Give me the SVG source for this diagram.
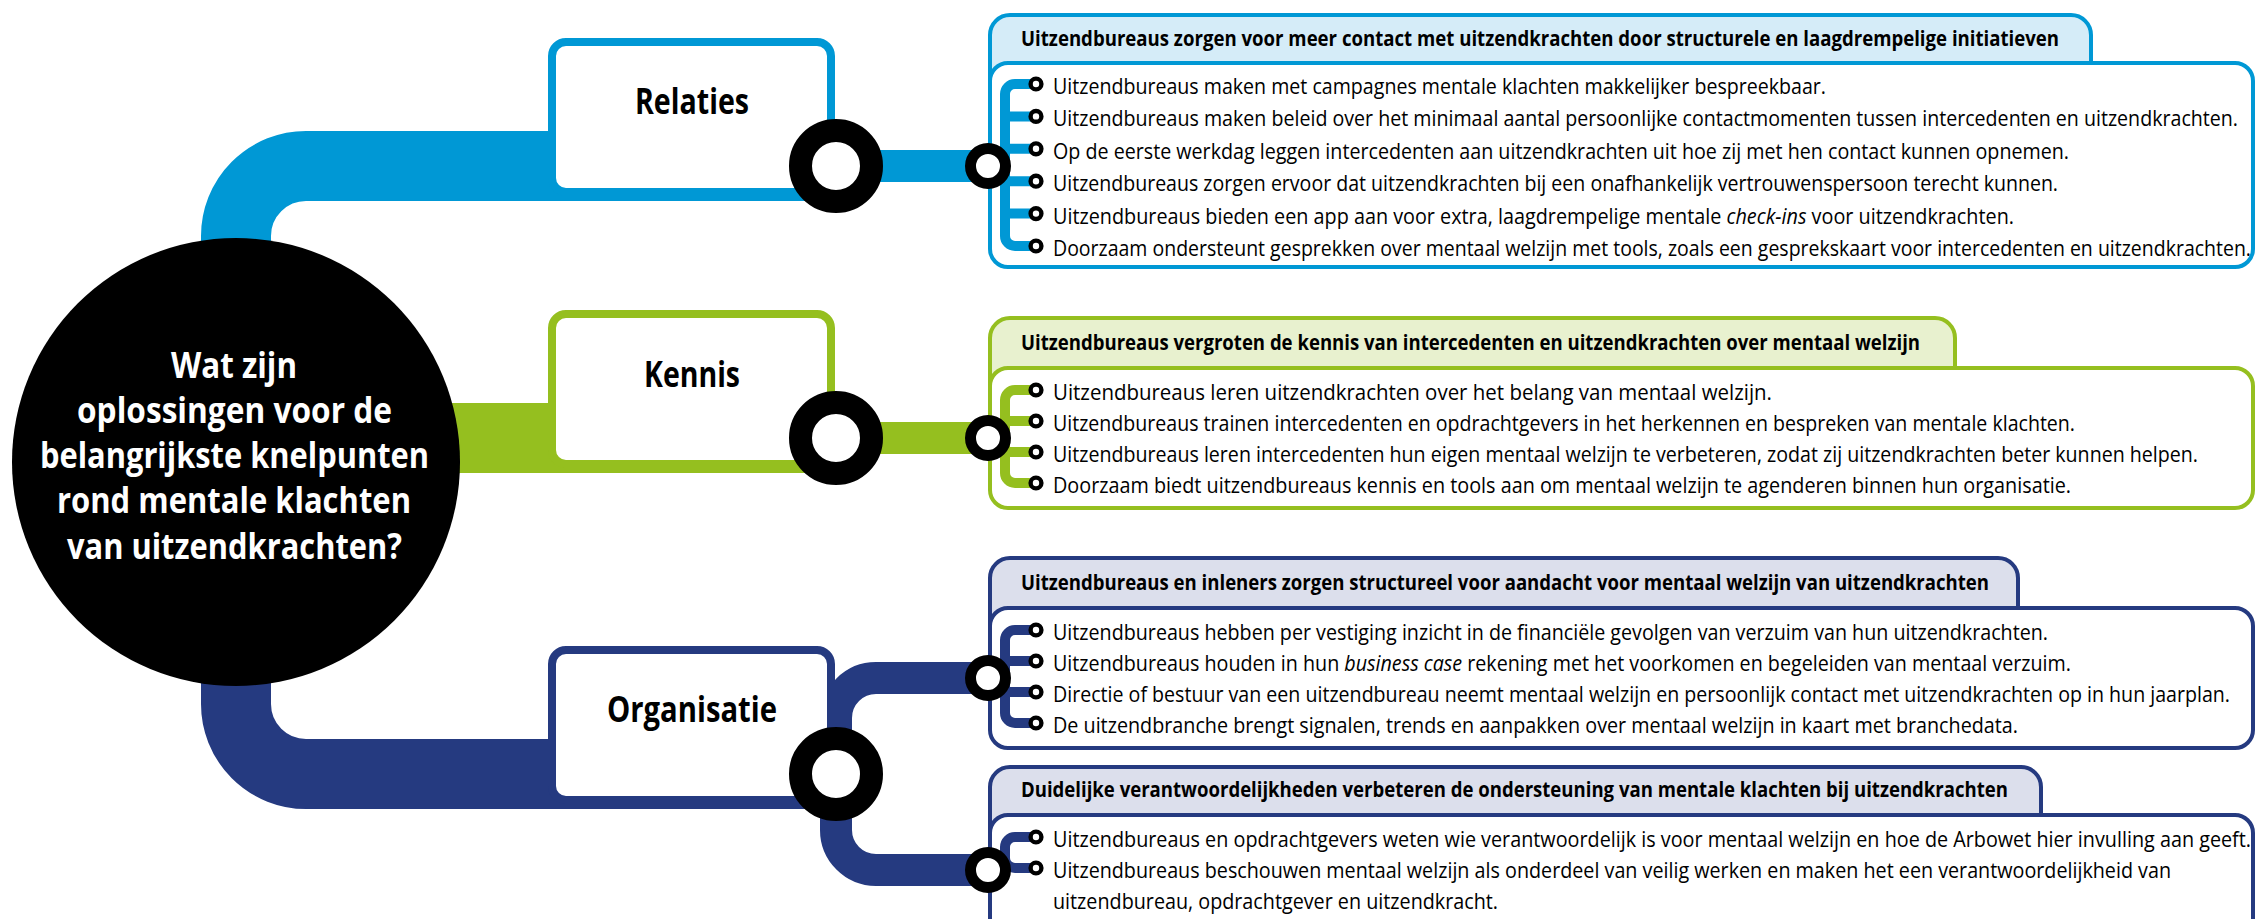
<svg xmlns="http://www.w3.org/2000/svg" width="2256" height="919" viewBox="0 0 2256 919">
<style>
.band{fill:none;stroke-linecap:butt;stroke-linejoin:round}
.b{stroke:#0098d5}.g{stroke:#95bf1f}.n{stroke:#253a80}
.ring{fill:#fff;stroke:#000;stroke-width:23}
.ring2{fill:#fff;stroke:#000;stroke-width:11}
.bul{fill:#fff;stroke:#000;stroke-width:4.4}
.brk{fill:none;stroke-width:10}
.box{fill:#fff;stroke-width:8}
.hdb{stroke-width:4}
.bdy{fill:#fff;stroke-width:4}
.lbl{font-family:'Open Sans','Noto Sans',sans-serif;font-weight:700;font-size:35px;fill:#000}
.q{font-family:'Open Sans','Noto Sans',sans-serif;font-weight:700;font-size:35px;fill:#fff}
.hd{font-family:'Open Sans','Noto Sans',sans-serif;font-weight:700;font-size:20.5px;fill:#000}
.tx{font-family:'Open Sans','Noto Sans',sans-serif;font-size:22px;fill:#000}
.it{font-style:italic}
</style>
<rect width="2256" height="919" fill="#fff"/>
<g id="connectors">
<path class="band b" stroke-width="70" d="M236,300 V236 A70,70 0 0 1 306,166 H836"/>
<path class="band b" stroke-width="32" d="M836,166 H988"/>
<path class="band g" stroke-width="70" d="M300,438 H836"/>
<path class="band g" stroke-width="32" d="M836,438 H988"/>
<path class="band n" stroke-width="70" d="M236,620 V704 A70,70 0 0 0 306,774 H836"/>
<path class="band n" stroke-width="32" d="M836,774 V718 A40,40 0 0 1 876,678 H988"/>
<path class="band n" stroke-width="32" d="M836,774 V830 A40,40 0 0 0 876,870 H988"/>
</g>
<g id="question">
<circle cx="236" cy="462" r="224" fill="#000"/>
<text class="q" x="171" y="378" textLength="126" lengthAdjust="spacingAndGlyphs">Wat zijn</text>
<text class="q" x="77" y="423" textLength="315" lengthAdjust="spacingAndGlyphs">oplossingen voor de</text>
<text class="q" x="40" y="468" textLength="389" lengthAdjust="spacingAndGlyphs">belangrijkste knelpunten</text>
<text class="q" x="57" y="513" textLength="354" lengthAdjust="spacingAndGlyphs">rond mentale klachten</text>
<text class="q" x="67" y="559" textLength="335" lengthAdjust="spacingAndGlyphs">van uitzendkrachten?</text>
</g>
<g id="relaties">
<rect class="box" x="552" y="42" width="279" height="150" rx="14" stroke="#0098d5"/>
<text class="lbl" x="635" y="114" textLength="114" lengthAdjust="spacingAndGlyphs">Relaties</text>
</g>
<g id="kennis">
<rect class="box" x="552" y="314" width="279" height="150" rx="14" stroke="#95bf1f"/>
<text class="lbl" x="644" y="387" textLength="96" lengthAdjust="spacingAndGlyphs">Kennis</text>
</g>
<g id="organisatie">
<rect class="box" x="552" y="650" width="279" height="150" rx="14" stroke="#253a80"/>
<text class="lbl" x="607" y="722" textLength="170" lengthAdjust="spacingAndGlyphs">Organisatie</text>
</g>
<g id="panel-relaties">
<rect class="hdb" x="990" y="15" width="1101" height="100" rx="20" fill="#d5ecf8" stroke="#0098d5"/>
<rect class="bdy" x="990" y="63" width="1263" height="204" rx="18" stroke="#0098d5"/>
<text class="hd" x="1021" y="46" textLength="1038" lengthAdjust="spacingAndGlyphs">Uitzendbureaus zorgen voor meer contact met uitzendkrachten door structurele en laagdrempelige initiatieven</text>
<path class="brk b" d="M1036,84 H1015 A10,10 0 0 0 1005,94 V236 A10,10 0 0 0 1015,246 H1036 M1005,116.4 H1036 M1005,148.8 H1036 M1005,181.2 H1036 M1005,213.6 H1036"/>
<circle class="bul" cx="1036" cy="84" r="5.4"/>
<circle class="bul" cx="1036" cy="116.4" r="5.4"/>
<circle class="bul" cx="1036" cy="148.8" r="5.4"/>
<circle class="bul" cx="1036" cy="181.2" r="5.4"/>
<circle class="bul" cx="1036" cy="213.6" r="5.4"/>
<circle class="bul" cx="1036" cy="246" r="5.4"/>
<text class="tx" x="1053" y="94" textLength="773" lengthAdjust="spacingAndGlyphs">Uitzendbureaus maken met campagnes mentale klachten makkelijker bespreekbaar.</text>
<text class="tx" x="1053" y="126.4" textLength="1185" lengthAdjust="spacingAndGlyphs">Uitzendbureaus maken beleid over het minimaal aantal persoonlijke contactmomenten tussen intercedenten en uitzendkrachten.</text>
<text class="tx" x="1053" y="158.8" textLength="1016" lengthAdjust="spacingAndGlyphs">Op de eerste werkdag leggen intercedenten aan uitzendkrachten uit hoe zij met hen contact kunnen opnemen.</text>
<text class="tx" x="1053" y="191.2" textLength="1005" lengthAdjust="spacingAndGlyphs">Uitzendbureaus zorgen ervoor dat uitzendkrachten bij een onafhankelijk vertrouwenspersoon terecht kunnen.</text>
<text class="tx" x="1053" y="223.6" textLength="961" lengthAdjust="spacingAndGlyphs">Uitzendbureaus bieden een app aan voor extra, laagdrempelige mentale <tspan class="it">check-ins</tspan> voor uitzendkrachten.</text>
<text class="tx" x="1053" y="256" textLength="1198" lengthAdjust="spacingAndGlyphs">Doorzaam ondersteunt gesprekken over mentaal welzijn met tools, zoals een gesprekskaart voor intercedenten en uitzendkrachten.</text>
</g>
<g id="panel-kennis">
<rect class="hdb" x="990" y="318" width="965" height="100" rx="20" fill="#e8f1cf" stroke="#95bf1f"/>
<rect class="bdy" x="990" y="368" width="1263" height="140" rx="18" stroke="#95bf1f"/>
<text class="hd" x="1021" y="350" textLength="899" lengthAdjust="spacingAndGlyphs">Uitzendbureaus vergroten de kennis van intercedenten en uitzendkrachten over mentaal welzijn</text>
<path class="brk g" d="M1036,390 H1015 A10,10 0 0 0 1005,400 V473 A10,10 0 0 0 1015,483 H1036 M1005,421 H1036 M1005,452 H1036"/>
<circle class="bul" cx="1036" cy="390" r="5.4"/>
<circle class="bul" cx="1036" cy="421" r="5.4"/>
<circle class="bul" cx="1036" cy="452" r="5.4"/>
<circle class="bul" cx="1036" cy="483" r="5.4"/>
<text class="tx" x="1053" y="400" textLength="719" lengthAdjust="spacingAndGlyphs">Uitzendbureaus leren uitzendkrachten over het belang van mentaal welzijn.</text>
<text class="tx" x="1053" y="431" textLength="1022" lengthAdjust="spacingAndGlyphs">Uitzendbureaus trainen intercedenten en opdrachtgevers in het herkennen en bespreken van mentale klachten.</text>
<text class="tx" x="1053" y="462" textLength="1145" lengthAdjust="spacingAndGlyphs">Uitzendbureaus leren intercedenten hun eigen mentaal welzijn te verbeteren, zodat zij uitzendkrachten beter kunnen helpen.</text>
<text class="tx" x="1053" y="493" textLength="1018" lengthAdjust="spacingAndGlyphs">Doorzaam biedt uitzendbureaus kennis en tools aan om mentaal welzijn te agenderen binnen hun organisatie.</text>
</g>
<g id="panel-organisatie-1">
<rect class="hdb" x="990" y="558" width="1028" height="100" rx="20" fill="#dcdfec" stroke="#253a80"/>
<rect class="bdy" x="990" y="608" width="1263" height="140" rx="18" stroke="#253a80"/>
<text class="hd" x="1021" y="590" textLength="968" lengthAdjust="spacingAndGlyphs">Uitzendbureaus en inleners zorgen structureel voor aandacht voor mentaal welzijn van uitzendkrachten</text>
<path class="brk n" d="M1036,630 H1015 A10,10 0 0 0 1005,640 V713 A10,10 0 0 0 1015,723 H1036 M1005,661 H1036 M1005,692 H1036"/>
<circle class="bul" cx="1036" cy="630" r="5.4"/>
<circle class="bul" cx="1036" cy="661" r="5.4"/>
<circle class="bul" cx="1036" cy="692" r="5.4"/>
<circle class="bul" cx="1036" cy="723" r="5.4"/>
<text class="tx" x="1053" y="640" textLength="995" lengthAdjust="spacingAndGlyphs">Uitzendbureaus hebben per vestiging inzicht in de financiële gevolgen van verzuim van hun uitzendkrachten.</text>
<text class="tx" x="1053" y="671" textLength="1018" lengthAdjust="spacingAndGlyphs">Uitzendbureaus houden in hun <tspan class="it">business case</tspan> rekening met het voorkomen en begeleiden van mentaal verzuim.</text>
<text class="tx" x="1053" y="702" textLength="1177" lengthAdjust="spacingAndGlyphs">Directie of bestuur van een uitzendbureau neemt mentaal welzijn en persoonlijk contact met uitzendkrachten op in hun jaarplan.</text>
<text class="tx" x="1053" y="733" textLength="965" lengthAdjust="spacingAndGlyphs">De uitzendbranche brengt signalen, trends en aanpakken over mentaal welzijn in kaart met branchedata.</text>
</g>
<g id="panel-organisatie-2">
<rect class="hdb" x="990" y="767" width="1051" height="100" rx="20" fill="#dcdfec" stroke="#253a80"/>
<rect class="bdy" x="990" y="815" width="1263" height="130" rx="18" stroke="#253a80"/>
<text class="hd" x="1021" y="797" textLength="987" lengthAdjust="spacingAndGlyphs">Duidelijke verantwoordelijkheden verbeteren de ondersteuning van mentale klachten bij uitzendkrachten</text>
<path class="brk n" d="M1036,837 H1015 A10,10 0 0 0 1005,847 V858 A10,10 0 0 0 1015,868 H1036"/>
<circle class="bul" cx="1036" cy="837" r="5.4"/>
<circle class="bul" cx="1036" cy="868" r="5.4"/>
<text class="tx" x="1053" y="847" textLength="1198" lengthAdjust="spacingAndGlyphs">Uitzendbureaus en opdrachtgevers weten wie verantwoordelijk is voor mentaal welzijn en hoe de Arbowet hier invulling aan geeft.</text>
<text class="tx" x="1053" y="878" textLength="1118" lengthAdjust="spacingAndGlyphs">Uitzendbureaus beschouwen mentaal welzijn als onderdeel van veilig werken en maken het een verantwoordelijkheid van</text>
<text class="tx" x="1053" y="909" textLength="445" lengthAdjust="spacingAndGlyphs">uitzendbureau, opdrachtgever en uitzendkracht.</text>
</g>
<g id="junctions">
<circle class="ring" cx="836" cy="166" r="35.5"/>
<circle class="ring" cx="836" cy="438" r="35.5"/>
<circle class="ring" cx="836" cy="774" r="35.5"/>
<circle class="ring2" cx="988" cy="166" r="17.5"/>
<circle class="ring2" cx="988" cy="438" r="17.5"/>
<circle class="ring2" cx="988" cy="678" r="17.5"/>
<circle class="ring2" cx="988" cy="870" r="17.5"/>
</g>
</svg>
